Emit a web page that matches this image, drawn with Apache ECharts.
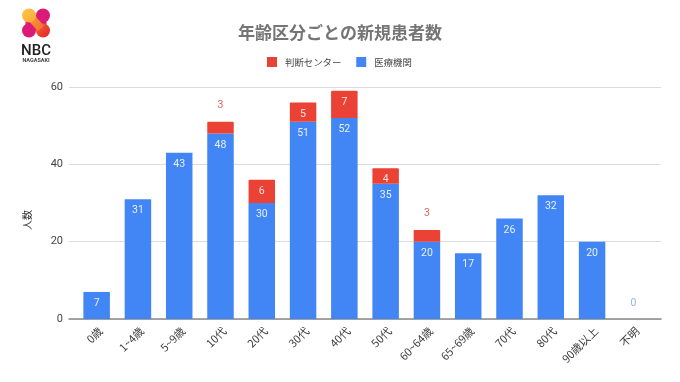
<!DOCTYPE html>
<html>
<head>
<meta charset="utf-8">
<script src="https://cdn.jsdelivr.net/npm/echarts@6/dist/echarts.min.js"></script>
<style>
html, body { margin: 0; padding: 0; background: #fff; }
#container { width: 680px; height: 382px; }
</style>
</head>
<body>
<div id="container"></div>
<script>
const categories = ['0歳', '1~4歳', '5~9歳', '10代', '20代', '30代', '40代', '50代', '60~64歳', '65~69歳', '70代', '80代', '90歳以上', '不明'];
const hospitalValues = [7, 31, 43, 48, 30, 51, 52, 35, 20, 17, 26, 32, 20, 0];
const centerValues = [null, null, null, 3, 6, 5, 7, 4, 3, null, null, null, null, null];
const yTicks = [0, 20, 40, 60];

const font = '"Noto Sans CJK JP", Roboto, sans-serif';
const blue = '#4285f4';
const red = '#ea4335';

var dom = document.getElementById('container');
var myChart = echarts.init(dom, null, { renderer: 'canvas' });

// small red segments and the zero bar carry their label above the bar
function centerData() {
    return centerValues.map(function (v) {
        if (v === 3) {
            return { value: v, label: { position: 'top', distance: 11, color: '#d9665c' } };
        }
        return v;
    });
}
function hospitalData() {
    return hospitalValues.map(function (v) {
        if (v === 0) {
            return { value: v, label: { position: 'top', distance: 10, color: '#8fb3f0' } };
        }
        return v;
    });
}

function grad(x, y, x2, y2, from, to) {
    return new echarts.graphic.LinearGradient(x, y, x2, y2, [
        { offset: 0, color: from },
        { offset: 1, color: to }
    ]);
}

var option = {
    animation: false,
    textStyle: { fontFamily: font },
    title: {
        text: '年齢区分ごとの新規患者数',
        left: 238,
        top: 24,
        padding: 0,
        textStyle: { fontSize: 17, fontWeight: 'bold', color: '#757575', fontFamily: font }
    },
    legend: {
        data: ['判断センター', '医療機関'],
        top: 57,
        left: 267,
        padding: 0,
        itemWidth: 10,
        itemHeight: 10,
        itemGap: 15,
        icon: 'rect',
        textStyle: { fontSize: 9.4, color: '#444', fontFamily: font, padding: [0, 0, 0, 3] }
    },
    // grid 0 holds the long gridlines and y labels, grid 1 the inset bars
    grid: [
        { left: 69, right: 19, top: 87, bottom: 63 },
        { left: 76, right: 26, top: 87, bottom: 63 }
    ],
    xAxis: [
        {
            gridIndex: 0, type: 'value', min: 0, max: 1,
            axisLine: { show: true, lineStyle: { color: '#8a8a8a', width: 1.5 } },
            axisTick: { show: false }, axisLabel: { show: false }, splitLine: { show: false }
        },
        {
            gridIndex: 1, type: 'category', data: categories,
            axisLine: { show: false }, axisTick: { show: false },
            axisLabel: { rotate: 45, fontSize: 11, color: '#3c3c3c', margin: 6, interval: 0, verticalAlign: 'top', fontFamily: font }
        }
    ],
    yAxis: [
        {
            gridIndex: 0, type: 'value', min: 0, max: 60, interval: 20,
            name: '人数', nameLocation: 'middle', nameGap: 37,
            nameTextStyle: { fontSize: 10, color: '#333', fontFamily: font, padding: [0, 34, 0, 0] },
            axisLine: { show: false }, axisTick: { show: false },
            axisLabel: {
                fontSize: 11, color: '#444', margin: 6, fontFamily: 'Roboto',
                formatter: function (v) { return yTicks.indexOf(v) >= 0 ? String(v) : ''; }
            },
            splitLine: { lineStyle: { color: '#dcdcdc', width: 1 } }
        },
        {
            gridIndex: 1, type: 'value', min: 0, max: 60, interval: 20, show: false
        }
    ],
    series: [
        {
            name: '医療機関', type: 'bar', stack: 'total', xAxisIndex: 1, yAxisIndex: 1,
            data: hospitalData(), barWidth: 26.5,
            itemStyle: { color: blue },
            label: { show: true, position: 'insideTop', distance: 6, fontSize: 10.5, color: '#e8f0fe', fontFamily: 'Roboto' },
            z: 3
        },
        {
            name: '判断センター', type: 'bar', stack: 'total', xAxisIndex: 1, yAxisIndex: 1,
            data: centerData(), barWidth: 26.5,
            itemStyle: { color: red, borderRadius: [1, 1, 0, 0] },
            label: { show: true, position: 'insideTop', distance: 6, fontSize: 10.5, color: '#fbe3e0', fontFamily: 'Roboto' },
            z: 3
        }
    ],
    graphic: [
        // logo: pink strokes under the yellow to red diagonal
        { type: 'line', z: 1, shape: { x1: 43, y1: 15.5, x2: 29, y2: 30.5 }, style: { stroke: '#dc1a78', lineWidth: 8 } },
        { type: 'line', z: 1, shape: { x1: 43, y1: 15.5, x2: 43, y2: 30.5 }, style: { stroke: '#dc1a78', lineWidth: 7 } },
        { type: 'line', z: 1, shape: { x1: 29, y1: 15.5, x2: 29, y2: 30.5 }, style: { stroke: '#dc1a78', lineWidth: 7 } },
        { type: 'circle', z: 1, shape: { cx: 43, cy: 15.5, r: 7 }, style: { fill: '#dc1a78' } },
        { type: 'circle', z: 1, shape: { cx: 29, cy: 30.5, r: 7 }, style: { fill: '#dc1a78' } },
        { type: 'circle', z: 2, shape: { cx: 43, cy: 30.5, r: 7 }, style: { fill: grad(0, 0, 1, 1, '#f4682c', '#e4202f') } },
        { type: 'line', z: 2, shape: { x1: 31, y1: 17.5, x2: 41, y2: 28.5 }, style: { stroke: grad(0, 0, 1, 1, '#fba63a', '#f4682c'), lineWidth: 8 } },
        { type: 'circle', z: 2, shape: { cx: 29, cy: 15.5, r: 7 }, style: { fill: grad(0, 0, 1, 1, '#fcc945', '#fba63a') } },
        { type: 'text', x: 36, y: 51, style: { text: 'NBC', fontSize: 15, fontWeight: 500, fill: '#222', fontFamily: 'Roboto', textAlign: 'center', textVerticalAlign: 'middle' } },
        { type: 'text', x: 36, y: 60.5, style: { text: 'NAGASAKI', fontSize: 5.5, fontWeight: 'bold', fill: '#444', fontFamily: 'Roboto', textAlign: 'center', textVerticalAlign: 'middle' } }
    ]
};

myChart.setOption(option);
window.addEventListener('resize', myChart.resize);
</script>
</body>
</html>
